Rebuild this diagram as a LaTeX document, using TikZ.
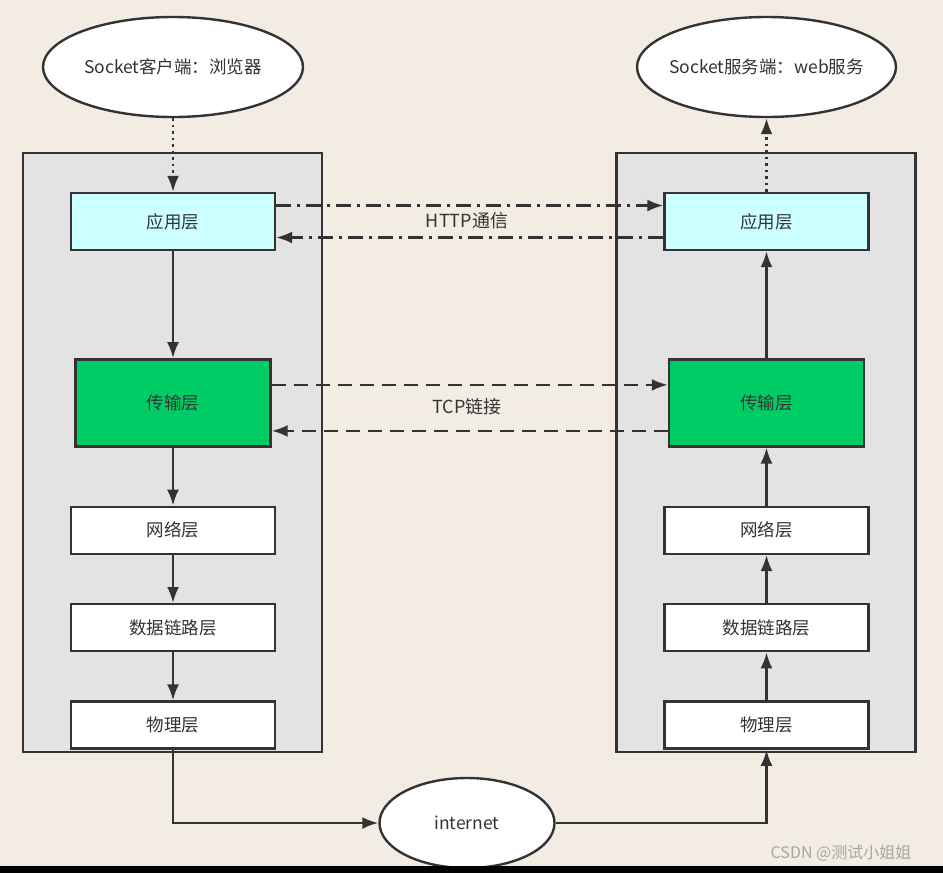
\documentclass[tikz,border=0pt]{standalone}
\usepackage{fontspec}
\setmainfont{Noto Sans CJK SC}
\usetikzlibrary{shapes.geometric, arrows.meta, positioning}
\definecolor{paper}{HTML}{F3ECE2}
\definecolor{panel}{HTML}{E3E3E3}
\definecolor{ink}{HTML}{333333}
\definecolor{appcyan}{HTML}{CCFFFF}
\definecolor{tcpgreen}{HTML}{00CC66}
\newcommand{\nowidth}[1]{\makebox[0pt]{#1}}

\begin{document}
\begin{tikzpicture}[x=1pt, y=-1pt,
			every node/.style={font=\fontsize{17.5}{20}\selectfont, text=ink},
			%% Node styles
			endpoint/.style={ellipse, draw=ink, line width=2.4pt, fill=white,
				inner sep=0pt, minimum width=260pt, minimum height=100pt},
			stack/.style={rectangle, draw=ink, line width=2.4pt, fill=panel,
				minimum width=299pt, minimum height=599pt},
			layer/.style={rectangle, draw=ink, line width=2.4pt, fill=white,
				minimum width=204pt, minimum height=47pt},
			applayer/.style={layer, fill=appcyan, minimum height=57pt},
			translayer/.style={layer, fill=tcpgreen, minimum width=195pt,
				minimum height=87pt},
			%% Arrow styles
			arr/.style={-{Latex[length=16pt,width=12pt]}, line width=2.4pt, draw=ink},
			httparr/.style={arr, dash pattern=on 15pt off 6pt on 3pt off 6pt},
			tcparr/.style={arr, dash pattern=on 14pt off 8pt},
			dotarr/.style={arr, dash pattern=on 2.5pt off 4pt},
			lbl/.style={font=\fontsize{18}{20}\selectfont},
			]
			
			%% ── Background ──────────────────────────────────────────────────
			\fill[paper] (0,0) rectangle (943,866);
			\useasboundingbox (0,0) rectangle (943,873);
			
			%% ── Endpoints ───────────────────────────────────────────────────
			\node[endpoint] (client) at (173,67) {\nowidth{Socket客户端：浏览器}};
			\node[endpoint, minimum width=259pt] (server) at (766.5,67) {\nowidth{Socket服务端：web服务}};
			
			%% ── Stacks ──────────────────────────────────────────────────────
			\node[stack] (stackL) at (172.5,452.5) {};
			\node[stack] (stackR) at (766,452.5) {};
			
			%% left stack (client)
			\node[applayer]                        (appL)  at (173,221.5) {应用层};
			\node[translayer, below=107pt of appL]  (tranL) {传输层};
			\node[layer, below=58pt of tranL]       (netL)  {网络层};
			\node[layer, below=48pt of netL]        (linkL) {数据链路层};
			\node[layer, below=48pt of linkL]       (physL) {物理层};
			
			%% right stack (server)
			\node[applayer]                        (appR)  at (766.5,221.5) {应用层};
			\node[translayer, below=107pt of appR]  (tranR) {传输层};
			\node[layer, below=58pt of tranR]       (netR)  {网络层};
			\node[layer, below=48pt of netR]        (linkR) {数据链路层};
			\node[layer, below=48pt of linkR]       (physR) {物理层};
			
			%% internet
			\node[endpoint, minimum width=175pt, minimum height=90pt] (inet) at (467,823) {internet};
			
			%% ── Down the client stack ───────────────────────────────────────
			\draw[dotarr] (client) -- (appL);
			\draw[arr] (appL)  -- (tranL);
			\draw[arr] (tranL) -- (netL);
			\draw[arr] (netL)  -- (linkL);
			\draw[arr] (linkL) -- (physL);
			
			%% ── Across the wire ─────────────────────────────────────────────
			\draw[arr] (physL.south) |- (inet.west);
			\draw[arr] (inet.east) -| (physR.south);
			
			%% ── Up the server stack ─────────────────────────────────────────
			\draw[arr] (physR) -- (linkR);
			\draw[arr] (linkR) -- (netR);
			\draw[arr] (netR)  -- (tranR);
			\draw[arr] (tranR) -- (appR);
			\draw[dotarr] (appR) -- (server);
			
			%% ── Peer links ──────────────────────────────────────────────────
			\draw[httparr] ([yshift=16pt]appL.east) -- ([yshift=16pt]appR.west);
			\draw[httparr] ([yshift=-16pt]appR.west) -- ([yshift=-16pt]appL.east);
			\node[lbl] (http) at (467,221) {HTTP通信};
			
			\draw[tcparr] ([yshift=18pt]tranL.east) -- ([yshift=18pt]tranR.west);
			\draw[tcparr] ([yshift=-28pt]tranR.west) -- ([yshift=-28pt]tranL.east);
			\node[lbl] (tcp) at (467,407) {TCP链接};
			
			%% watermark + bottom strip
			\node[font=\fontsize{16}{18}\selectfont, text=gray!70] (mark) at (841,853) {CSDN @测试小姐姐};
			\fill[black] (0,866) rectangle (943,873);
			
		\end{tikzpicture}
\end{document}
